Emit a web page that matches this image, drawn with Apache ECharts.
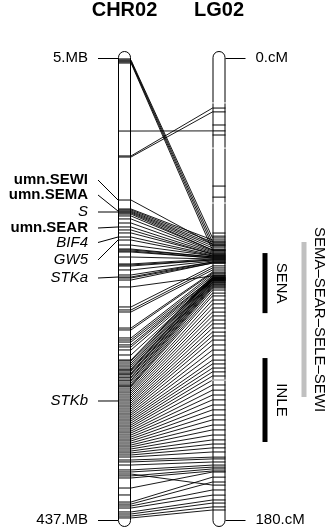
<!DOCTYPE html>
<html>
<head>
<meta charset="utf-8">
<script src="https://cdn.jsdelivr.net/npm/echarts@6/dist/echarts.min.js"></script>
<style>
  html, body { margin: 0; padding: 0; background: #fff; }
  #chart { width: 331px; height: 528px; }
</style>
</head>
<body>
<div id="chart"></div>
<script>
// ---- map extents ----
const chrName = 'CHR02';
const lgName = 'LG02';
const chrRangeMb = [5, 437];
const lgRangeCm = [0, 180];

// ---- markers shared by both maps: physical position (Mb) -> genetic position (cM) ----
const linkMb = [
  6.9, 7.8, 8.7, 9.7, 73.3, 96.6, 97.6,
  137.8, 146.2, 147.1, 148.1, 149.0, 149.9, 150.9, 152.7, 155.5, 159.3, 163.0,
  165.8, 168.6, 172.4, 175.2, 179.9, 183.6, 184.5, 185.5, 186.4, 191.1, 197.6,
  198.5, 199.5, 203.2, 207.9, 209.8, 210.7, 212.6, 219.1, 237.8, 240.6, 242.5,
  257.5, 259.3, 266.8, 268.7, 270.6, 273.3, 275.2, 278.0, 282.7,
  287.4, 288.3, 290.2, 292.1, 293.9, 295.8, 296.7, 297.7, 299.5, 300.5, 301.4,
  303.3, 304.2, 306.1, 307.0, 308.9, 310.7, 311.7, 312.6, 314.5, 316.4, 318.2,
  320.1, 322.0, 323.9, 325.7, 327.6, 329.5, 331.3, 333.2, 335.1, 337.0, 338.8,
  340.7, 342.6, 344.4, 346.3, 348.2, 350.0, 351.9, 353.8, 355.6, 357.5, 359.4,
  361.3, 363.1, 365.0, 366.9, 368.7, 370.6, 372.5, 374.3, 376.2, 378.1,
  380.9, 382.7, 385.6, 390.2, 392.1, 394.0, 395.8,
  397.7, 407.1, 420.2, 422.1, 423.9, 425.8, 429.5, 431.4, 433.3, 435.1
];
const linkCm = [
  70.1, 71.7, 73.2, 74.8, 28.4, 19.5, 21.0,
  72.5, 70.9, 71.7, 72.5, 73.2, 74.0, 74.8, 74.8, 75.2, 75.6, 76.0,
  76.4, 76.4, 76.8, 77.1, 77.1, 77.5, 77.5, 77.9, 77.9, 78.3, 78.3,
  78.7, 78.7, 79.1, 79.5, 79.5, 79.9, 79.9, 84.9, 81.0, 81.8, 82.6,
  83.4, 83.8, 84.2, 84.9, 85.7, 85.7, 86.1, 86.5, 86.5,
  84.9, 85.3, 85.7, 85.7, 86.1, 86.5, 86.5, 86.9, 87.3, 87.3, 87.7,
  88.1, 88.4, 88.8, 89.2, 89.6, 90.4, 91.6, 92.7, 94.3, 95.8, 97.4,
  99.0, 100.5, 102.1, 103.6, 105.2, 106.8, 108.3, 109.9, 111.8, 113.8, 115.7,
  117.7, 119.2, 120.8, 122.3, 123.9, 125.5, 127.4, 129.4, 131.3, 133.2, 135.2,
  137.1, 139.1, 141.0, 143.0, 144.9, 146.9, 148.8, 150.4, 151.9, 153.5,
  155.5, 156.2, 157.4, 158.6, 159.4, 166.4, 160.1,
  160.9, 161.3, 163.3, 165.2, 168.3, 170.3, 172.2, 173.4, 174.9, 176.1
];

// markers placed on one map only
const chrOnlyMb = [5.9, 413.6];
const lgOnlyCm = [26.1, 30.0, 49.9, 54.2, 68.2, 69.4];
// blank separators cut through the LG02 outline
const lgGapCm = [17.5, 35.1, 56.5, 106.0, 125.5];

// ---- named loci on CHR02 ----
const locusNames = ['umn.SEWI', 'umn.SEMA', 'S', 'umn.SEAR', 'BIF4', 'GW5', 'STKa', 'STKb'];
const locusMb    = [137.8, 148.1, 149.0, 163.0, 172.4, 175.2, 209.8, 325.7];
const locusBold  = [true, true, false, true, false, false, false, false];

// ---- QTL intervals on LG02 ----
const qtlNames   = ['SENA', 'INLE', 'SEMA\u2013SEAR\u2013SELE\u2013SEWI'];
const qtlStartCm = [76.0, 116.9, 71.7];
const qtlEndCm   = [99.4, 149.6, 132.1];

// ---- layout ----
const W = 331, H = 528;
const FONT = '"Liberation Sans", Arial, Helvetica, sans-serif';
const GRID = { left: 118, right: 105.5, top: 58, bottom: 8 };
const X_MAX = W - GRID.left - GRID.right;      // x axis runs in pixel units
const CHR_X = [0, 13];
const LG_X = [X_MAX - 13, X_MAX];
const CAP = 6.5;
const LEADER = 20;
const locusLabelY = [180, 195, 212, 228, 242.5, 260, 278, 401];
const qtlBarX  = [147, 147, 186];
const qtlTextX = [163, 163, 201];
const qtlColor = ['#000', '#000', '#c0c0c0'];

const chart = echarts.init(document.getElementById('chart'), null, { renderer: 'canvas' });

function cmToPixelY(cm) {
  return chart.convertToPixel({ yAxisIndex: 1 }, cm);
}

function capsule(api, x0, x1, v0, v1, fill, stroke) {
  const a = api.coord([x0, v0]);
  const b = api.coord([x1, v1]);
  return {
    type: 'rect',
    shape: { x: a[0] + 0.5, y: a[1] - CAP, width: b[0] - a[0] - 1, height: b[1] - a[1] + 2 * CAP, r: CAP - 0.5 },
    style: { fill: fill, stroke: stroke, lineWidth: 1 }
  };
}

function bodySeries(yAxisIndex, xs, range, fill, stroke, z) {
  return {
    type: 'custom', yAxisIndex: yAxisIndex, z: z, silent: true, animation: false,
    data: [[xs[0], range[0], range[1]]],
    renderItem: function (params, api) {
      return capsule(api, xs[0], xs[1], api.value(1), api.value(2), fill, stroke);
    }
  };
}

function markSeries(yAxisIndex, xs, values, color, z, overhang) {
  return {
    type: 'custom', yAxisIndex: yAxisIndex, z: z, silent: true, animation: false,
    data: values.map(v => [xs[0], v]),
    renderItem: function (params, api) {
      const a = api.coord([xs[0], api.value(1)]);
      const b = api.coord([xs[1], api.value(1)]);
      return { type: 'line', shape: { x1: a[0] - overhang, y1: a[1], x2: b[0] + overhang, y2: b[1] },
               style: { stroke: color, lineWidth: 1 } };
    }
  };
}

const linkSeries = {
  type: 'custom', yAxisIndex: 0, z: 2, silent: true, animation: false,
  data: linkMb.map((mb, i) => [CHR_X[1], mb, linkCm[i]]),
  renderItem: function (params, api) {
    const mb = api.value(1), cm = api.value(2);
    const l0 = api.coord([CHR_X[0], mb]);
    const l1 = api.coord([CHR_X[1], mb]);
    const r0x = api.coord([LG_X[0], mb])[0];
    const r1x = api.coord([LG_X[1], mb])[0];
    const ry = cmToPixelY(cm);
    const st = { stroke: '#000', lineWidth: 0.9 };
    return {
      type: 'group',
      children: [
        { type: 'line', shape: { x1: l1[0], y1: l1[1], x2: r0x, y2: ry }, style: st },
        { type: 'line', shape: { x1: l0[0], y1: l0[1], x2: l1[0], y2: l1[1] }, style: { stroke: '#000', lineWidth: 1 } },
        { type: 'line', shape: { x1: r0x, y1: ry, x2: r1x, y2: ry }, style: { stroke: '#000', lineWidth: 1 } }
      ]
    };
  }
};

const locusSeries = {
  type: 'custom', yAxisIndex: 0, z: 4, silent: true, animation: false,
  data: locusMb.map((mb, i) => [CHR_X[0], mb, i]),
  renderItem: function (params, api) {
    const i = api.value(2);
    const p = api.coord([CHR_X[0], api.value(1)]);
    const ly = locusLabelY[i];
    return {
      type: 'group',
      children: [
        { type: 'line', shape: { x1: p[0] - LEADER, y1: ly, x2: p[0], y2: p[1] },
          style: { stroke: '#000', lineWidth: 1 } },
        { type: 'text', x: p[0] - LEADER - 10, y: ly,
          style: { text: locusNames[i], fill: '#000', align: 'right', verticalAlign: 'middle',
                   font: (locusBold[i] ? 'bold ' : 'italic ') + '15px ' + FONT } }
      ]
    };
  }
};

const qtlSeries = {
  type: 'custom', yAxisIndex: 1, z: 4, silent: true, animation: false,
  data: qtlNames.map((n, i) => [qtlBarX[i], qtlStartCm[i], qtlEndCm[i], i]),
  renderItem: function (params, api) {
    const i = api.value(3);
    const a = api.coord([qtlBarX[i], api.value(1)]);
    const b = api.coord([qtlBarX[i], api.value(2)]);
    const tx = api.coord([qtlTextX[i], api.value(1)])[0];
    return {
      type: 'group',
      children: [
        { type: 'rect', shape: { x: a[0] - 2.5, y: a[1], width: 5, height: b[1] - a[1] },
          style: { fill: qtlColor[i] } },
        { type: 'text', x: tx, y: (a[1] + b[1]) / 2, rotation: -Math.PI / 2,
          style: { text: qtlNames[i], fill: '#000', align: 'center', verticalAlign: 'middle',
                   font: '15px ' + FONT } }
      ]
    };
  }
};

const axisText = { fontSize: 15, color: '#000', fontFamily: FONT };

chart.setOption({
  animation: false,
  backgroundColor: '#fff',
  grid: { left: GRID.left, right: GRID.right, top: GRID.top, bottom: GRID.bottom, show: false },
  xAxis: { type: 'value', min: 0, max: X_MAX, show: false },
  yAxis: [
    {
      type: 'value', position: 'left', inverse: true, min: chrRangeMb[0], max: chrRangeMb[1],
      axisLine: { show: false }, splitLine: { show: false },
      axisTick: { show: true, customValues: chrRangeMb, length: LEADER, lineStyle: { color: '#000', width: 1 } },
      axisLabel: Object.assign({ customValues: chrRangeMb, margin: LEADER + 10, formatter: v => v + '.MB' }, axisText)
    },
    {
      type: 'value', position: 'right', inverse: true, min: lgRangeCm[0], max: lgRangeCm[1],
      axisLine: { show: false }, splitLine: { show: false },
      axisTick: { show: true, customValues: lgRangeCm, length: LEADER, lineStyle: { color: '#000', width: 1 } },
      axisLabel: Object.assign({ customValues: lgRangeCm, margin: LEADER + 10, formatter: v => v + '.cM' }, axisText)
    }
  ],
  graphic: [
    { type: 'text', x: GRID.left + CAP, y: 10,
      style: { text: chrName, font: 'bold 20px ' + FONT, fill: '#000', align: 'center', verticalAlign: 'middle' } },
    { type: 'text', x: W - GRID.right - CAP, y: 10,
      style: { text: lgName, font: 'bold 20px ' + FONT, fill: '#000', align: 'center', verticalAlign: 'middle' } }
  ],
  series: [
    bodySeries(0, CHR_X, chrRangeMb, '#fff', null, 1),
    bodySeries(1, LG_X, lgRangeCm, '#fff', null, 1),
    linkSeries,
    markSeries(0, CHR_X, chrOnlyMb, '#000', 2, 0),
    markSeries(1, LG_X, lgOnlyCm, '#000', 2, 0),
    bodySeries(0, CHR_X, chrRangeMb, 'none', '#000', 3),
    bodySeries(1, LG_X, lgRangeCm, 'none', '#000', 3),
    markSeries(1, LG_X, lgGapCm, '#fff', 3.5, 1),
    locusSeries,
    qtlSeries
  ]
});
</script>
</body>
</html>
